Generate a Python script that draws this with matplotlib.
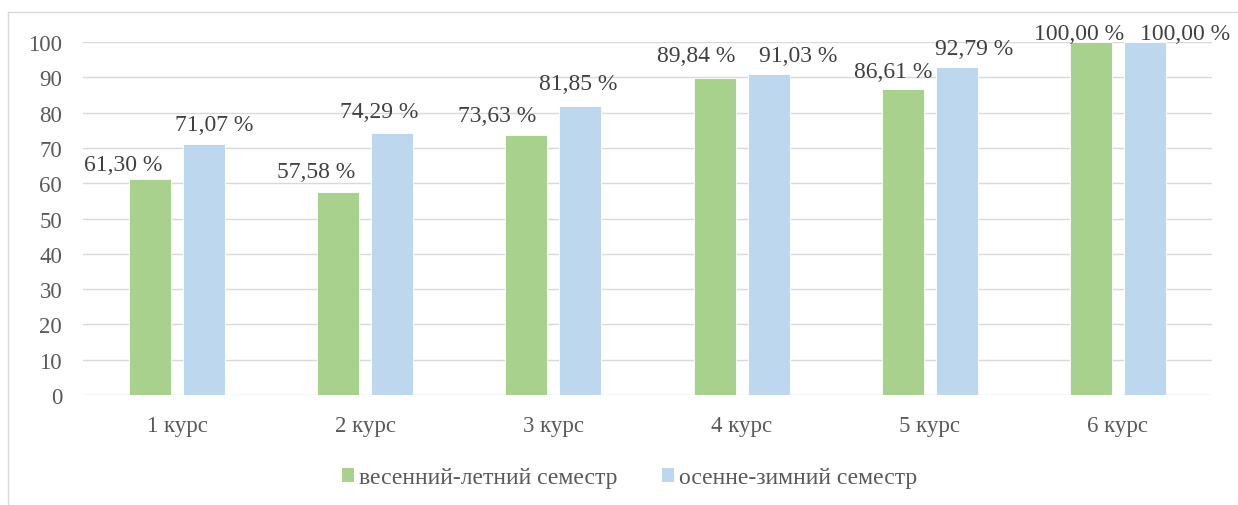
import matplotlib
matplotlib.use("Agg")
import matplotlib.pyplot as plt
import numpy as np
from matplotlib.patches import Patch
from matplotlib.lines import Line2D

# Data
courses = ["1 курс", "2 курс", "3 курс", "4 курс", "5 курс", "6 курс"]
spring_summer = [61.30, 57.58, 73.63, 89.84, 86.61, 100.00]
autumn_winter = [71.07, 74.29, 81.85, 91.03, 92.79, 100.00]
series_names = ["весенний-летний семестр", "осенне-зимний семестр"]
y_ticks = [0, 10, 20, 30, 40, 50, 60, 70, 80, 90, 100]

# Styling
GREEN = "#A9D18E"
BLUE = "#BDD7EE"
GRID = "#D9D9D9"
TICK_COLOR = "#595959"
LABEL_COLOR = "#404040"
FONT = "Liberation Serif"

# label placement (pixel offsets from bar-top centre)
green_label_dx = [-27, -22, -29, -18, -10, -12]
green_label_dy = [9, 15, 14, 17, 12, 3]
blue_label_dx = [10, -13, -2, 30, 17, 40]
blue_label_dy = [14, 16, 17, 13, 13, 3]

plt.rcParams["font.family"] = [FONT, "DejaVu Serif"]

W, H = 1238, 506
fig = plt.figure(figsize=(W / 100, H / 100), dpi=100)
ax = fig.add_axes([83 / W, (H - 396) / H, (1212 - 83) / W, (396 - 43) / H])

x = np.arange(len(courses))
bw = 0.223
off = 0.1435
ax.bar(x - off, spring_summer, bw, color=GREEN, edgecolor="white",
       linewidth=0.6, zorder=3)
ax.bar(x + off, autumn_winter, bw, color=BLUE, edgecolor="white",
       linewidth=0.6, zorder=3)

def fmt(v):
    return f"{v:.2f}".replace(".", ",") + " %"

for i, v in enumerate(spring_summer):
    ax.annotate(fmt(v), (x[i] - off, v), xytext=(green_label_dx[i], green_label_dy[i]),
                textcoords="offset pixels", ha="center", va="baseline",
                fontsize=17, color=LABEL_COLOR, zorder=5, annotation_clip=False)
for i, v in enumerate(autumn_winter):
    ax.annotate(fmt(v), (x[i] + off, v), xytext=(blue_label_dx[i], blue_label_dy[i]),
                textcoords="offset pixels", ha="center", va="baseline",
                fontsize=17, color=LABEL_COLOR, zorder=5, annotation_clip=False)

ax.set_xlim(-0.5, len(courses) - 0.5)
ax.set_ylim(0, 100)
ax.set_yticks(y_ticks)
ax.set_xticks(x)
ax.set_xticklabels(courses)
ax.tick_params(axis="both", length=0, labelsize=16.5, labelcolor=TICK_COLOR)
ax.tick_params(axis="y", pad=15)
ax.tick_params(axis="x", pad=14.2)
ax.grid(axis="y", color=GRID, linewidth=1.0, zorder=0)
ax.set_axisbelow(True)
for s in ax.spines.values():
    s.set_visible(False)

# outer chart frame (top and left edges visible)
fig.add_artist(Line2D([8 / W, 1.0], [(H - 13) / H] * 2, transform=fig.transFigure,
                      color=GRID, linewidth=1.0))
fig.add_artist(Line2D([8 / W] * 2, [0, (H - 13) / H], transform=fig.transFigure,
                      color=GRID, linewidth=1.0))

handles = [Patch(facecolor=GREEN, edgecolor="none"), Patch(facecolor=BLUE, edgecolor="none")]
leg = fig.legend(handles, series_names, loc="center", bbox_to_anchor=(629.5 / W, (H - 479) / H),
                 ncol=2, frameon=False, fontsize=17, handlelength=0.51, handleheight=0.51,
                 handletextpad=0.21, columnspacing=1.9, borderpad=0)
for t in leg.get_texts():
    t.set_color(TICK_COLOR)

fig.savefig("out.png", dpi=100)
